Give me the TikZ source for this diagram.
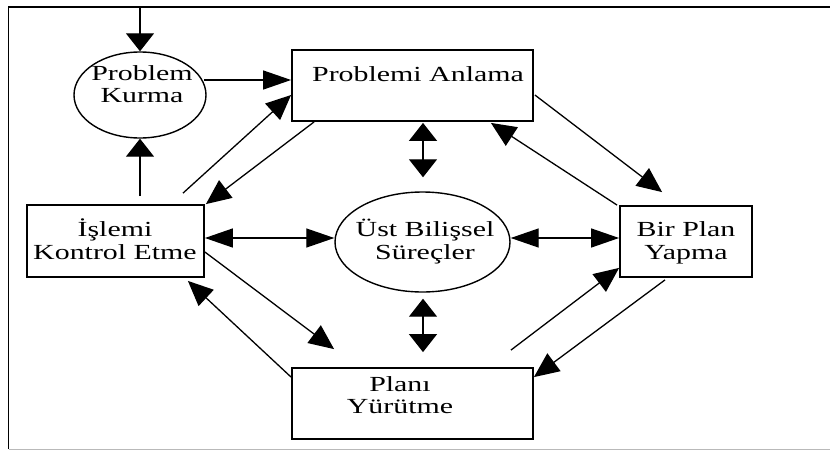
\documentclass[tikz,border=0pt]{standalone}
\usepackage{fontspec}
\setmainfont{Liberation Serif}[FakeStretch=1.39]
\usetikzlibrary{arrows.meta,shapes.geometric}
\begin{document}
\begin{tikzpicture}[x=1pt,y=-1pt,
  box/.style={draw,line width=1.8pt,rectangle,inner sep=0pt},
  oval/.style={draw,line width=1.4pt,ellipse,inner sep=0pt},
  lbl/.style={font=\fontsize{21.5}{22.5}\selectfont,align=center,inner sep=0pt,anchor=base},
  link/.style={line width=1.3pt},
  av/.style={link,-{Triangle[length=18pt,width=28pt]}},
  ah/.style={link,-{Triangle[length=28pt,width=19pt]}},
  ad/.style={link,-{Triangle[length=25pt,width=22pt]}},
  avv/.style={link,{Triangle[length=18pt,width=28pt]}-{Triangle[length=18pt,width=28pt]}},
  ahh/.style={link,{Triangle[length=28pt,width=19pt]}-{Triangle[length=28pt,width=19pt]}}
]
\useasboundingbox (0,0) rectangle (830,450);

% frame
\draw[line width=1.4pt] (8.5,449) -- (8.5,7) -- (830,7);
\draw[line width=1pt,gray!55] (8.5,449.3) -- (830,449.3);
\coordinate (top) at (140,7);

% shapes
\node[oval,minimum width=132,minimum height=86] (pk) at (140,95) {};
\node[box,minimum width=241,minimum height=71] (pa) at (412.5,85.5) {};
\node[box,minimum width=177,minimum height=72] (ik) at (115.5,241) {};
\node[oval,minimum width=175,minimum height=100] (us) at (422.5,242) {};
\node[box,minimum width=132,minimum height=71] (bp) at (686,241.5) {};
\node[box,minimum width=241,minimum height=71] (py) at (412.5,403.5) {};

% labels (base anchor sits on the last line)
\node[lbl] (pk-t) at (142,102.5) {Problem\\Kurma};
\node[lbl] (pa-t) at (418,81) {Problemi Anlama};
\node[lbl] (ik-t) at (115,259) {İşlemi\\Kontrol Etme};
\node[lbl] (us-t) at (425,259) {Üst Bilişsel\\Süreçler};
\node[lbl] (bp-t) at (686,259) {Bir Plan\\Yapma};
\node[lbl] (py-t) at (400,413.5) {Planı\\Yürütme};

% connectors
\draw[av] (top) -- (pk.north);
\draw[av] ([shift={(24.5,-8)}]ik.north) -- (pk.south);
\draw[ah] ([shift={(64,-15)}]pk.center) -- ([shift={(0,-5.5)}]pa.west);
\draw[ad] ([shift={(67.5,-11)}]ik.north) -- ([shift={(0,9.5)}]pa.west);
\draw[ad] ([shift={(23,0)}]pa.south west) -- ([shift={(1,0)}]ik.north east);
\draw[ad] ([shift={(1,9.5)}]pa.east) -- ([shift={(43,-13)}]bp.north west);
\draw[ad] ([shift={(-2,0)}]bp.north west) -- ([shift={(-43,1)}]pa.south east);
\draw[avv] ([shift={(10.5,1)}]pa.south) -- ([shift={(0.5,-14)}]us.north);
\draw[ahh] ([shift={(0,-3)}]ik.east) -- ([shift={(0,-4)}]us.west);
\draw[ahh] ([shift={(0,-4)}]us.east) -- ([shift={(0,-3.5)}]bp.west);
\draw[avv] ([shift={(0.5,6)}]us.south) -- ([shift={(10.5,-15)}]py.north);
\draw[ad] ([shift={(0,11)}]ik.east) -- ([shift={(43,-18)}]py.north west);
\draw[ad] ([shift={(0,10)}]py.north west) -- ([shift={(-17,3)}]ik.south east);
\draw[ad] ([shift={(-23,-17)}]py.north east) -- ([shift={(0,-10)}]bp.south west);
\draw[ad] ([shift={(-21,2)}]bp.south) -- ([shift={(0,10)}]py.north east);
\end{tikzpicture}
\end{document}
